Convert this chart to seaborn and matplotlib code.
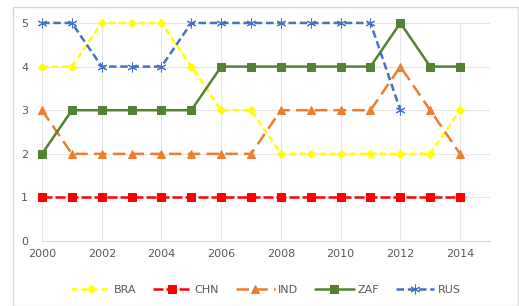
import matplotlib
matplotlib.use("Agg")
import matplotlib.pyplot as plt
import seaborn as sns
import numpy as np
import pandas as pd
from matplotlib.patches import Rectangle

years = list(range(2000, 2015))
BRA = [4, 4, 5, 5, 5, 4, 3, 3, 2, 2, 2, 2, 2, 2, 3]
CHN = [1] * 15
IND = [3, 2, 2, 2, 2, 2, 2, 2, 3, 3, 3, 3, 4, 3, 2]
ZAF = [2, 3, 3, 3, 3, 3, 4, 4, 4, 4, 4, 4, 5, 4, 4]
RUS = [5, 5, 4, 4, 4, 5, 5, 5, 5, 5, 5, 5, 3, np.nan, np.nan]

series = {"BRA": BRA, "CHN": CHN, "IND": IND, "ZAF": ZAF, "RUS": RUS}
colors = {"BRA": "#FFFF00", "CHN": "#FF0000", "IND": "#ED7D31", "ZAF": "#548235", "RUS": "#4472C4"}
markers = {"BRA": "D", "CHN": "s", "IND": "^", "ZAF": "s", "RUS": (6, 2, 0)}
msizes = {"BRA": 4.5, "CHN": 6, "IND": 6, "ZAF": 5.5, "RUS": 7}
dashes = {"BRA": (2.5, 1.5), "CHN": (4, 1.2), "IND": (5, 2.5), "ZAF": None, "RUS": (3, 1.5)}

sns.set_style("white")
fig = plt.figure(figsize=(5.19, 3.06), dpi=100)
ax = fig.add_axes([0.081, 0.212, 0.863, 0.713])

for name, vals in series.items():
    df = pd.DataFrame({"year": years, "rank": vals})
    sns.lineplot(data=df, x="year", y="rank", ax=ax, color=colors[name],
                 marker=markers[name], markersize=msizes[name],
                 markeredgecolor=colors[name], linewidth=1.8, label=name,
                 clip_on=False)
    line = ax.get_lines()[-1]
    if dashes[name] is not None:
        line.set_dashes(dashes[name])

ax.set_xlim(2000, 2015)
ax.set_ylim(0, 5)
ax.set_xticks(range(2000, 2015, 2))
ax.set_yticks(range(0, 6))
ax.grid(True, color="#E6E6E6", linewidth=0.8)
ax.set_axisbelow(True)
for s in ["top", "right", "left"]:
    ax.spines[s].set_visible(False)
ax.spines["bottom"].set_color("#D9D9D9")
ax.tick_params(axis="x", colors="#595959", labelsize=8, length=0, pad=6)
ax.tick_params(axis="y", colors="#595959", labelsize=8, length=0, pad=10)
ax.set_xlabel("")
ax.set_ylabel("")

leg = ax.legend(loc="upper center", bbox_to_anchor=(0.5, -0.155), ncol=5,
                frameon=False, fontsize=8, handlelength=3.5, columnspacing=1.5,
                handletextpad=0.3)
for t in leg.get_texts():
    t.set_color("#595959")

fig.patches.append(Rectangle((13 / 519, 0.0), 1 - 14 / 519, 1 - 7 / 306,
                             transform=fig.transFigure, fill=False,
                             edgecolor="#D9D9D9", linewidth=1))

fig.savefig("out.png", dpi=100)
